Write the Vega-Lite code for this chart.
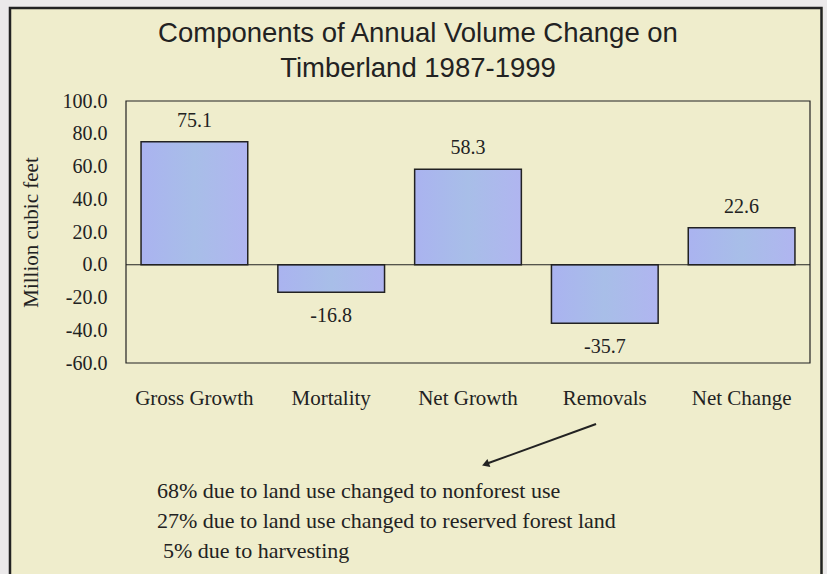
{
  "$schema": "https://vega.github.io/schema/vega-lite/v6.json",
  "width": 684,
  "height": 262,
  "autosize": "none",
  "padding": {"left": 126, "top": 101, "right": 17, "bottom": 211},
  "background": "#efedcc",
  "config": {
    "view": {"stroke": null},
    "locale": {"number": {"decimal": ".", "thousands": ",", "grouping": [3], "currency": ["$", ""], "minus": "-"}}
  },
  "title": {
    "text": ["Components of Annual Volume Change on", "Timberland 1987-1999"],
    "font": "Liberation Sans",
    "fontSize": 27.5,
    "fontWeight": "normal",
    "color": "#222222",
    "anchor": "middle",
    "lineHeight": 35,
    "dx": -50,
    "offset": -93
  },
  "resolve": {"scale": {"x": "independent"}},
  "layer": [
    {
      "data": {
        "values": [
          {"component": "Gross Growth", "volume": 75.1},
          {"component": "Mortality", "volume": -16.8},
          {"component": "Net Growth", "volume": 58.3},
          {"component": "Removals", "volume": -35.7},
          {"component": "Net Change", "volume": 22.6}
        ]
      },
      "encoding": {
        "x": {
          "field": "component",
          "type": "nominal",
          "sort": null,
          "scale": {"paddingInner": 0.22, "paddingOuter": 0.11},
          "axis": {
            "title": null,
            "labelAngle": 0,
            "labelFont": "Liberation Serif",
            "labelFontSize": 21,
            "labelColor": "#222222",
            "labelPadding": 24,
            "ticks": false,
            "domain": false
          }
        },
        "y": {
          "field": "volume",
          "type": "quantitative",
          "scale": {"domain": [-60, 100], "nice": false, "zero": false},
          "axis": {
            "title": "Million cubic feet",
            "titleFont": "Liberation Serif",
            "titleFontSize": 21,
            "titleFontWeight": "normal",
            "titleColor": "#222222",
            "titlePadding": 21,
            "values": [-60, -40, -20, 0, 20, 40, 60, 80, 100],
            "tickCount": 12,
            "labelOverlap": false,
            "format": ".1f",
            "labelFont": "Liberation Serif",
            "labelFontSize": 20,
            "labelColor": "#222222",
            "labelPadding": 19,
            "ticks": false,
            "domain": false,
            "grid": false
          }
        }
      },
      "layer": [
        {
          "mark": {
            "type": "bar",
            "stroke": "#222222",
            "strokeWidth": 1.5,
            "fill": {
              "x1": 0, "y1": 0, "x2": 1, "y2": 0,
              "gradient": "linear",
              "stops": [
                {"offset": 0, "color": "#aab3f0"},
                {"offset": 0.5, "color": "#a8bee8"},
                {"offset": 1, "color": "#b0b5f0"}
              ]
            }
          },
          "encoding": {"y2": {"datum": 0}}
        },
        {
          "transform": [{"filter": "datum.volume > 0"}],
          "mark": {"type": "text", "font": "Liberation Serif", "fontSize": 20, "color": "#222222", "baseline": "middle", "dy": -21},
          "encoding": {"text": {"field": "volume", "format": ".1f"}}
        },
        {
          "transform": [{"filter": "datum.volume < 0"}],
          "mark": {"type": "text", "font": "Liberation Serif", "fontSize": 20, "color": "#222222", "baseline": "middle", "dy": 24},
          "encoding": {"text": {"field": "volume", "format": ".1f"}}
        }
      ]
    },
    {
      "data": {"values": [{}]},
      "mark": {"type": "rect", "fill": null, "fillOpacity": 0, "stroke": "#ebe9ea", "strokeWidth": 18},
      "encoding": {
        "x": {"datum": -0.921, "type": "quantitative", "scale": {"domain": [0, 5], "nice": false, "zero": false}, "axis": null},
        "x2": {"datum": 5.161},
        "y": {"datum": 162.9, "type": "quantitative", "scale": {"domain": [-60, 100], "nice": false, "zero": false}},
        "y2": {"datum": -204.7}
      }
    },
    {
      "data": {"values": [{}]},
      "mark": {"type": "rect", "fill": null, "fillOpacity": 0, "stroke": "#222222", "strokeWidth": 2.5},
      "encoding": {
        "x": {"datum": -0.848, "type": "quantitative", "scale": {"domain": [0, 5], "nice": false, "zero": false}, "axis": null},
        "x2": {"datum": 5.084},
        "y": {"datum": 156.8, "type": "quantitative", "scale": {"domain": [-60, 100], "nice": false, "zero": false}},
        "y2": {"datum": -198.6}
      }
    },
    {
      "data": {"values": [{}]},
      "mark": {"type": "rule", "color": "#222222", "strokeWidth": 1.2},
      "encoding": {
        "x": {"datum": 0, "type": "quantitative", "scale": {"domain": [0, 5], "nice": false, "zero": false}, "axis": null},
        "x2": {"datum": 5},
        "y": {"datum": 0, "type": "quantitative", "scale": {"domain": [-60, 100], "nice": false, "zero": false}}
      }
    },
    {
      "data": {"values": [{}]},
      "mark": {"type": "rect", "fill": null, "fillOpacity": 0, "stroke": "#222222", "strokeWidth": 1.2},
      "encoding": {
        "x": {"datum": 0, "type": "quantitative", "scale": {"domain": [0, 5], "nice": false, "zero": false}, "axis": null},
        "x2": {"datum": 5},
        "y": {"datum": -60, "type": "quantitative", "scale": {"domain": [-60, 100], "nice": false, "zero": false}},
        "y2": {"datum": 100}
      }
    },
    {
      "data": {"values": [{}]},
      "mark": {"type": "rule", "color": "#222222", "strokeWidth": 2},
      "encoding": {
        "x": {"datum": 3.436, "type": "quantitative", "scale": {"domain": [0, 5], "nice": false, "zero": false}, "axis": null},
        "x2": {"datum": 2.64},
        "y": {"datum": -97.25, "type": "quantitative", "scale": {"domain": [-60, 100], "nice": false, "zero": false}},
        "y2": {"datum": -121.4}
      }
    },
    {
      "data": {"values": [{}]},
      "mark": {"type": "point", "shape": "triangle-left", "filled": true, "color": "#222222", "size": 70, "angle": -20, "opacity": 1},
      "encoding": {
        "x": {"datum": 2.628, "type": "quantitative", "scale": {"domain": [0, 5], "nice": false, "zero": false}, "axis": null},
        "y": {"datum": -121.8, "type": "quantitative", "scale": {"domain": [-60, 100], "nice": false, "zero": false}}
      }
    },
    {
      "data": {"values": [{"note": "68% due to land use changed to nonforest use"}]},
      "mark": {"type": "text", "font": "Liberation Serif", "fontSize": 22, "color": "#222222", "align": "left", "baseline": "alphabetic"},
      "encoding": {
        "x": {"datum": 0.2266, "type": "quantitative", "scale": {"domain": [0, 5], "nice": false, "zero": false}, "axis": null},
        "y": {"datum": -142.7, "type": "quantitative", "scale": {"domain": [-60, 100], "nice": false, "zero": false}},
        "text": {"field": "note"}
      }
    },
    {
      "data": {"values": [{"note": "27% due to land use changed to reserved forest land"}]},
      "mark": {"type": "text", "font": "Liberation Serif", "fontSize": 22, "color": "#222222", "align": "left", "baseline": "alphabetic"},
      "encoding": {
        "x": {"datum": 0.2266, "type": "quantitative", "scale": {"domain": [0, 5], "nice": false, "zero": false}, "axis": null},
        "y": {"datum": -161.0, "type": "quantitative", "scale": {"domain": [-60, 100], "nice": false, "zero": false}},
        "text": {"field": "note"}
      }
    },
    {
      "data": {"values": [{"note": "5%  due to harvesting"}]},
      "mark": {"type": "text", "font": "Liberation Serif", "fontSize": 22, "color": "#222222", "align": "left", "baseline": "alphabetic"},
      "encoding": {
        "x": {"datum": 0.2705, "type": "quantitative", "scale": {"domain": [0, 5], "nice": false, "zero": false}, "axis": null},
        "y": {"datum": -179.3, "type": "quantitative", "scale": {"domain": [-60, 100], "nice": false, "zero": false}},
        "text": {"field": "note"}
      }
    }
  ]
}
